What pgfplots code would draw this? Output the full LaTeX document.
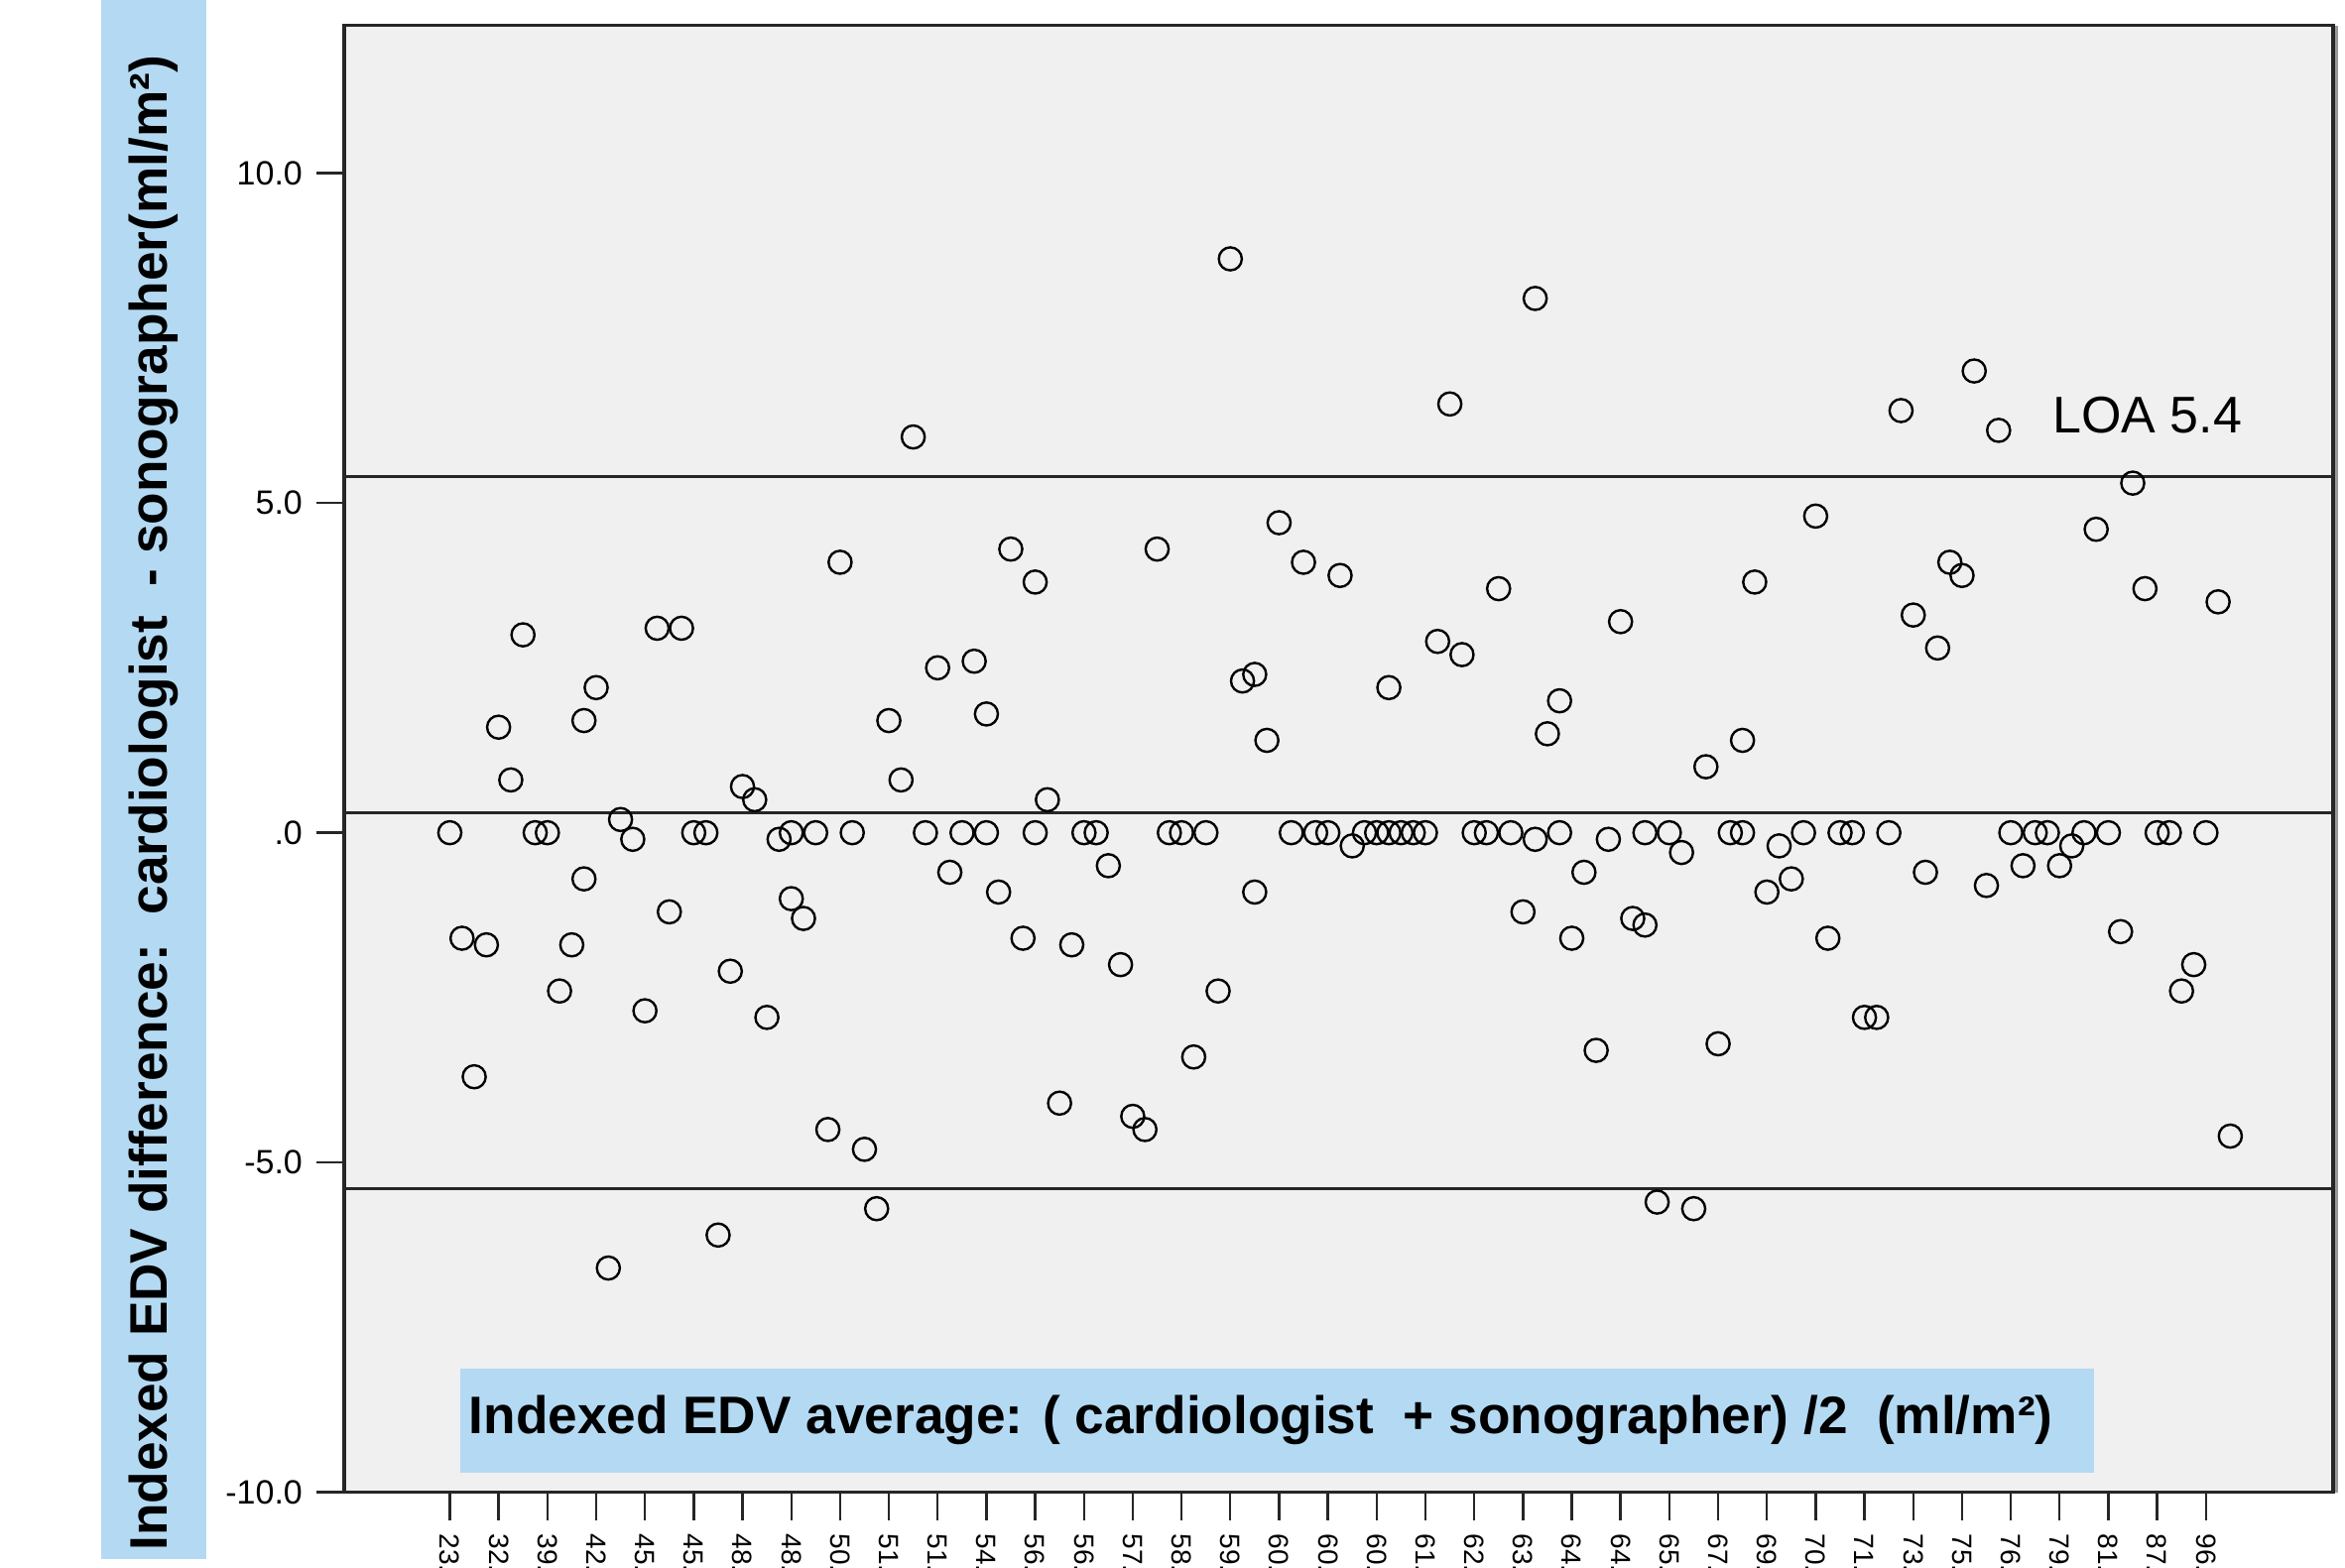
\documentclass[border=0pt]{standalone}
\usepackage{pgfplots}
\pgfplotsset{compat=1.18}
\usepackage{fontspec}
\setmainfont{Liberation Sans}
\definecolor{lblue}{RGB}{180,218,243}
\definecolor{bg}{RGB}{240,240,240}
\begin{document}
\begin{tikzpicture}
\path[use as bounding box] (0,0) rectangle (591pt,395.25pt);
\fill[white] (0,0) rectangle (591pt,395.25pt);
\fill[lblue] (25.6pt,2.25pt) rectangle (52pt,395.25pt);
\node[rotate=90, inner sep=0pt, font=\fontsize{13.3}{15}\bfseries\selectfont] at (38.8pt,192.75pt) {Indexed EDV difference:\ \ cardiologist\ \ - sonographer(ml/m²)};
\draw[black!40, line width=1.2pt] (588.6pt,19.08pt) -- (588.6pt,388.85pt);
\begin{axis}[
  at={(86.75pt,19.08pt)}, anchor=south west, scale only axis,
  width=501.25pt, height=369.77pt,
  xmin=-8.66, xmax=154.43, ymin=-10, ymax=12.24,
  axis background/.style={fill=bg},
  axis line style={draw=black!85, line width=0.8pt},
  tick pos=left, tick align=outside,
  major tick style={black!85, line width=0.6pt},
  major tick length=7pt,
  xtick={0,4,...,144},
  xticklabels={23.,32.,39.,42.,45.,45.,48.,48.,50.,51.,51.,54.,56.,56.,57.,58.,59.,60.,60.,60.,61.,62.,63.,64.,64.,65.,67.,69.,70.,71.,73.,75.,76.,79.,81.,87.,96.},
  xticklabel style={rotate=-90, anchor=west, font=\fontsize{7}{8}\selectfont},
  ytick={-10,-5,0,5,10},
  yticklabels={-10.0,-5.0,.0,5.0,10.0},
  yticklabel style={font=\fontsize{8.5}{10}\selectfont},
]
\fill[lblue] (axis cs:0.85,-8.12) rectangle (axis cs:134.8,-9.70);
\node[anchor=west, inner sep=0pt, font=\fontsize{13.3}{15}\bfseries\selectfont] at (axis cs:1.5,-8.91) {Indexed EDV average: ( cardiologist\ \ + sonographer) /2\ \ (ml/m²)};
\addplot[black!85, line width=0.75pt] coordinates {(-8.66,5.4) (154.43,5.4)};
\addplot[black!85, line width=0.75pt] coordinates {(-8.66,0.3) (154.43,0.3)};
\addplot[black!85, line width=0.75pt] coordinates {(-8.66,-5.4) (154.43,-5.4)};
\node[font=\fontsize{13}{15}\selectfont] at (axis cs:139.2,6.33) {LOA 5.4};
\addplot[only marks, mark=o, mark size=2.9pt, mark options={black, line width=0.6pt}] table[x=x, y=y] {
x y
0 0
1 -1.6
2 -3.7
3 -1.7
4 1.6
5 0.8
6 3.0
7 0
8 0
9 -2.4
10 -1.7
11 1.7
11 -0.7
12 2.2
13 -6.6
14 0.2
15 -0.1
16 -2.7
17 3.1
18 -1.2
19 3.1
20 0
21 0
22 -6.1
23 -2.1
24 0.7
25 0.5
26 -2.8
27 -0.1
28 0
28 -1.0
29 -1.3
30 0
31 -4.5
32 4.1
33 0
34 -4.8
35 -5.7
36 1.7
37 0.8
38 6.0
39 0
40 2.5
41 -0.6
42 0
43 2.6
44 1.8
44 0
45 -0.9
46 4.3
47 -1.6
48 3.8
48 0
49 0.5
50 -4.1
51 -1.7
52 0
53 0
54 -0.5
55 -2.0
56 -4.3
57 -4.5
58 4.3
59 0
60 0
61 -3.4
62 0
63 -2.4
64 8.7
65 2.3
66 2.4
66 -0.9
67 1.4
68 4.7
69 0
70 4.1
71 0
72 0
73 3.9
74 -0.2
75 0
76 0
77 0
77 2.2
78 0
79 0
80 0
81 2.9
82 6.5
83 2.7
84 0
85 0
86 3.7
87 0
88 -1.2
89 8.1
89 -0.1
90 1.5
91 2.0
91 0
92 -1.6
93 -0.6
94 -3.3
95 -0.1
96 3.2
97 -1.3
98 -1.4
98 0
99 -5.6
100 0
101 -0.3
102 -5.7
103 1.0
104 -3.2
105 0
106 0
106 1.4
107 3.8
108 -0.9
109 -0.2
110 -0.7
111 0
112 4.8
113 -1.6
114 0
115 0
116 -2.8
117 -2.8
118 0
119 6.4
120 3.3
121 -0.6
122 2.8
123 4.1
124 3.9
125 7.0
126 -0.8
127 6.1
128 0
129 -0.5
130 0
131 0
132 -0.5
133 -0.2
134 0
135 4.6
136 0
137 -1.5
138 5.3
139 3.7
140 0
141 0
142 -2.4
143 -2.0
144 0
145 3.5
146 -4.6
};
\end{axis}
\end{tikzpicture}
\end{document}
